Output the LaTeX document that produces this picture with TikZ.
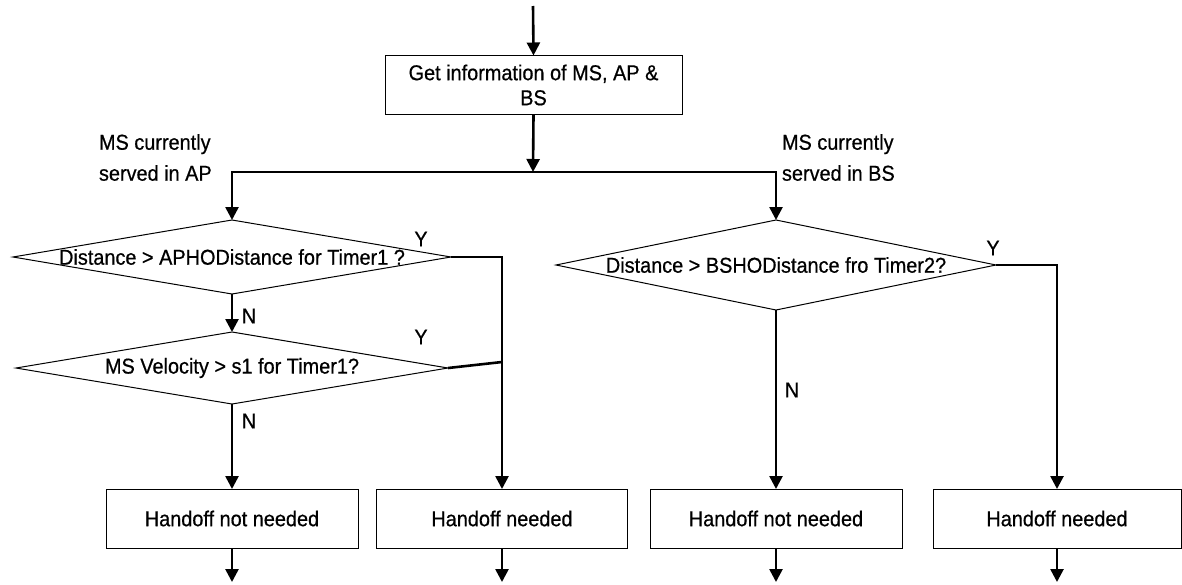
\documentclass[tikz,border=0pt]{standalone}
\usepackage{fontspec}
\setmainfont{Liberation Sans}[FakeStretch=0.925,FakeBold=0.6]
\usetikzlibrary{arrows.meta,shapes.geometric}
\begin{document}
\begin{tikzpicture}[x=1pt,y=-1pt,
  every node/.style={font=\fontsize{21.5}{25}\selectfont, inner sep=0pt, outer sep=0pt},
  procbox/.style={draw, line width=1pt, rectangle, minimum height=59pt},
  decision/.style={draw, line width=1pt, diamond},
  flow/.style={line width=2.6pt},
  flowarr/.style={flow, -{Triangle[width=13pt,length=13pt]}},
  note/.style={align=left, font=\fontsize{21.5}{31}\selectfont, anchor=west}]
\useasboundingbox (0,0) rectangle (1182,584);

% entry and information gathering
\coordinate (start) at (533,6);
\node[procbox, minimum width=297pt, align=center, font=\fontsize{21.5}{25}\selectfont]
  (get) at (533.5,85) {Get information of MS, AP \&\\BS};
\coordinate (jn) at (533,172);

% decisions
\node[decision, minimum width=438pt, minimum height=74pt,
  label={center:Distance > APHODistance for Timer1 ?}] (d1) at (232,257) {};
\node[decision, minimum width=432pt, minimum height=72pt,
  label={center:MS Velocity > s1 for Timer1?}] (d2) at (232,368) {};
\node[decision, minimum width=440pt, minimum height=90pt,
  label={center:Distance > BSHODistance fro Timer2?}] (d3) at (776,265) {};
\coordinate (m2) at (502,362);

% outcomes
\node[procbox, minimum width=252pt] (b1) at (232,518.5) {Handoff not needed};
\node[procbox, minimum width=251pt] (b2) at (502,518.5) {Handoff needed};
\node[procbox, minimum width=252pt] (b3) at (776,518.5) {Handoff not needed};
\node[procbox, minimum width=248pt] (b4) at (1057,518.5) {Handoff needed};
\coordinate (e1) at (232,582);
\coordinate (e2) at (502,582);
\coordinate (e3) at (776,582);
\coordinate (e4) at (1057,582);

% branch notes
\node[note] (apnote) at (99,157.5) {MS currently\\served in AP};
\node[note] (bsnote) at (782,157.5) {MS currently\\served in BS};
\node (y1) at (421,239) {Y};
\node (y2) at (421,337) {Y};
\node (y3) at (993,248) {Y};
\node (n1) at (249,316) {N};
\node (n2) at (249,421) {N};
\node (n3) at (792,390) {N};

% connectors
\draw[flowarr] (start) -- (get.north);
\draw[flowarr] (get.south) -- (jn);
\draw[flowarr] (jn) -| (d1.north);
\draw[flowarr] (jn) -| (d3.north);
\draw[flowarr] (d1.south) -- (d2.north);
\draw[flowarr] (d2.south) -- (b1.north);
\draw[flowarr] (d1.east) -| (b2.north);
\draw[flow] (d2.east) -- (m2);
\draw[flowarr] (d3.east) -| (b4.north);
\draw[flowarr] (d3.south) -- (b3.north);
\draw[flowarr] (b1.south) -- (e1);
\draw[flowarr] (b2.south) -- (e2);
\draw[flowarr] (b3.south) -- (e3);
\draw[flowarr] (b4.south) -- (e4);
\end{tikzpicture}
\end{document}
